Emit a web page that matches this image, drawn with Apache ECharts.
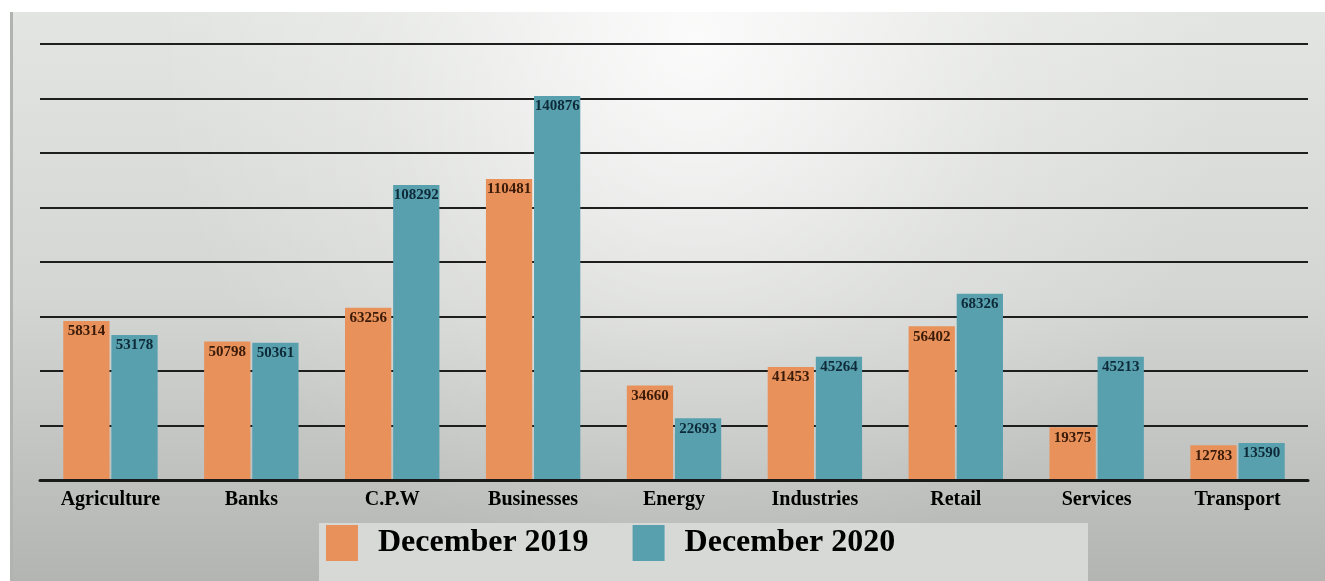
<!DOCTYPE html>
<html>
<head>
<meta charset="utf-8">
<script src="https://cdn.jsdelivr.net/npm/echarts@6/dist/echarts.min.js"></script>
<style>
  html, body { margin: 0; padding: 0; background: #ffffff; }
  #chart { width: 1325px; height: 581px; }
</style>
</head>
<body>
<div id="chart"></div>
<script>
// Sector totals compared across two Decembers
const categories = ['Agriculture', 'Banks', 'C.P.W', 'Businesses', 'Energy', 'Industries', 'Retail', 'Services', 'Transport'];
const dec2019 = [58314, 50798, 63256, 110481, 34660, 41453, 56402, 19375, 12783];
const dec2020 = [53178, 50361, 108292, 140876, 22693, 45264, 68326, 45213, 13590];
const seriesNames = ['December 2019', 'December 2020'];

const serif = '"Liberation Serif", "DejaVu Serif", serif';
const chart = echarts.init(document.getElementById('chart'));

function barSeries(name, data, color, textColor) {
  return {
    name: name,
    type: 'bar',
    data: data,
    barGap: '4%',
    barCategoryGap: '33%',
    itemStyle: { color: color },
    label: {
      show: true,
      position: 'insideTop',
      distance: 3,
      color: textColor,
      fontFamily: serif,
      fontWeight: 'bold',
      fontSize: 15
    },
    z: 3
  };
}

chart.setOption({
  animation: false,
  graphic: [
    {
      // panel background: light at the top, darker towards the bottom
      type: 'rect', z: -10, silent: true,
      shape: { x: 12, y: 12, width: 1313, height: 569 },
      style: {
        fill: {
          type: 'linear', x: 0, y: 0, x2: 0, y2: 1,
          colorStops: [
            { offset: 0, color: '#e3e5e2' },
            { offset: 0.5, color: '#d4d6d3' },
            { offset: 1, color: '#b2b5b2' }
          ]
        }
      }
    },
    {
      // soft highlight near the top centre
      type: 'rect', z: -9, silent: true,
      shape: { x: 12, y: 12, width: 1313, height: 569 },
      style: {
        fill: {
          type: 'radial', x: 0.52, y: 0.05, r: 0.95,
          colorStops: [
            { offset: 0, color: 'rgba(255,255,255,0.85)' },
            { offset: 0.6, color: 'rgba(255,255,255,0.22)' },
            { offset: 1, color: 'rgba(255,255,255,0)' }
          ]
        }
      }
    },
    {
      type: 'rect', z: -8, silent: true,
      shape: { x: 10, y: 12, width: 3, height: 569 },
      style: { fill: '#b0b3b0' }
    },
    {
      // legend panel
      type: 'rect', z: -5, silent: true,
      shape: { x: 319, y: 523, width: 769, height: 58 },
      style: { fill: '#d6d9d5' }
    }
  ],
  legend: {
    data: seriesNames,
    left: 321,
    top: 520,
    itemWidth: 32,
    itemHeight: 36,
    itemGap: 44,
    icon: 'rect',
    textStyle: {
      fontFamily: serif,
      fontWeight: 'bold',
      fontSize: 32,
      color: '#000',
      padding: [0, 0, 0, 15]
    }
  },
  grid: { left: 40, right: 17, top: 44, bottom: 101, containLabel: false },
  xAxis: {
    type: 'category',
    data: categories,
    axisLine: { show: true, lineStyle: { color: '#1a1a1a', width: 3 } },
    axisTick: { show: false },
    axisLabel: {
      fontFamily: serif,
      fontWeight: 'bold',
      fontSize: 20,
      color: '#000',
      margin: 10,
      interval: 0
    },
    z: 4
  },
  yAxis: {
    type: 'value',
    min: 0,
    max: 160000,
    interval: 20000,
    axisLine: { show: false },
    axisTick: { show: false },
    axisLabel: { show: false },
    splitLine: { lineStyle: { color: '#1e1e1e', width: 2 } }
  },
  series: [
    barSeries(seriesNames[0], dec2019, '#e8915a', '#3a1a08'),
    barSeries(seriesNames[1], dec2020, '#58a0ae', '#0e2a38')
  ]
});
</script>
</body>
</html>
